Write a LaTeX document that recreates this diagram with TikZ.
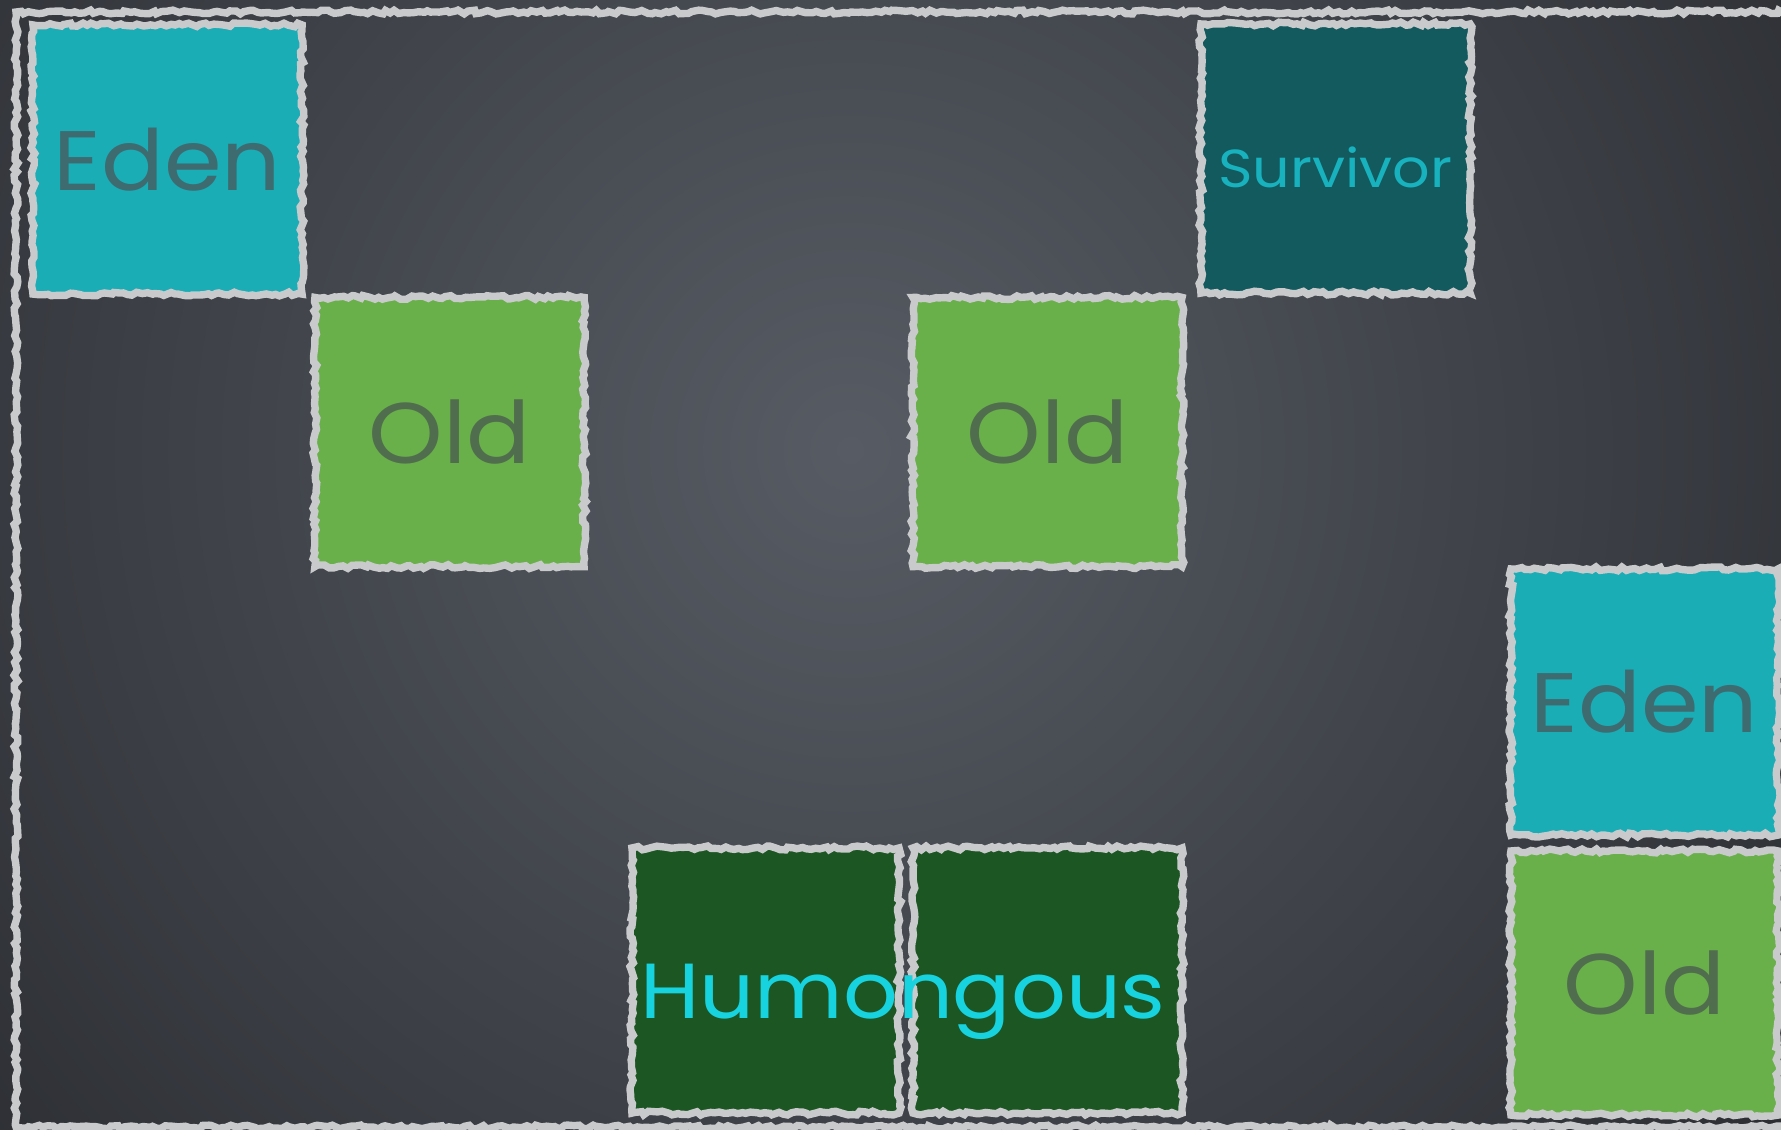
\documentclass[tikz,border=0pt]{standalone}
\usepackage{fontspec}
\usetikzlibrary{decorations.pathmorphing}
\newfontfamily\chalkfont[FakeStretch=1.1]{Poppins}
\definecolor{bginner}{HTML}{575C64}
\definecolor{bgouter}{HTML}{2C2E33}
\definecolor{chalkgray}{HTML}{C9CACC}
\definecolor{edenfill}{HTML}{1AADB6}
\definecolor{edentext}{HTML}{3E6B70}
\definecolor{oldfill}{HTML}{6AB04A}
\definecolor{oldtext}{HTML}{506E4E}
\definecolor{survfill}{HTML}{135A5F}
\definecolor{survtext}{HTML}{18B2BE}
\definecolor{humfill}{HTML}{1C5623}
\definecolor{humtext}{HTML}{17D3DF}
\begin{document}
\begin{tikzpicture}[x=0.01cm,y=-0.01cm,
  chalk/.style={draw=chalkgray, line width=2.1pt, decorate,
    decoration={random steps, segment length=1.3pt, amplitude=0.55pt}},
  region/.style={chalk, rectangle, inner sep=0pt, minimum width=2.69cm, minimum height=2.69cm},
  edenbox/.style={region, fill=edenfill, text=edentext, font={\chalkfont\fontsize{24pt}{28pt}\selectfont}},
  oldbox/.style={region, fill=oldfill, text=oldtext, font={\chalkfont\fontsize{24.5pt}{28pt}\selectfont}},
  survbox/.style={region, fill=survfill},
  survlabel/.style={text=survtext, inner sep=0pt, font={\chalkfont\fontsize{15.2pt}{18pt}\selectfont}},
  humbox/.style={region, fill=humfill, minimum height=2.65cm},
  humlabel/.style={text=humtext, inner sep=0pt, font={\chalkfont\fontsize{22.2pt}{26pt}\selectfont}}
]
\pgfmathsetseed{7}
\useasboundingbox (0,0) rectangle (1781,1129);
\begin{scope}
  \clip (0,0) rectangle (1781,1129);
  \fill[bgouter] (0,0) rectangle (1781,1129);
  \shade[inner color=bginner, outer color=bgouter] (850,450) circle (1150);
  \draw[chalk] (16,12) rectangle (1840,1127);
  \node[edenbox] (eden1) at (167.5,159.5) {Eden};
  \node[oldbox] (old1) at (449.5,432) {Old};
  \node[oldbox] (old2) at (1047.5,432) {Old};
  \node[survbox] (surv) at (1335.5,158.5) {};
  \node[survlabel] (survtxt) at (1335.5,167.5) {Survivor};
  \node[edenbox, minimum width=2.67cm, minimum height=2.66cm] (eden2) at (1644.5,702) {Eden};
  \node[oldbox, minimum width=2.67cm, minimum height=2.64cm] (old3) at (1644.5,983) {Old};
  \node[humbox, minimum width=2.67cm] (humL) at (765.5,980.5) {};
  \node[humbox] (humR) at (1047.5,980.5) {};
  \node[humlabel] (humtxt) at (903,1002) {Humongous};
\end{scope}
\end{tikzpicture}
\end{document}
